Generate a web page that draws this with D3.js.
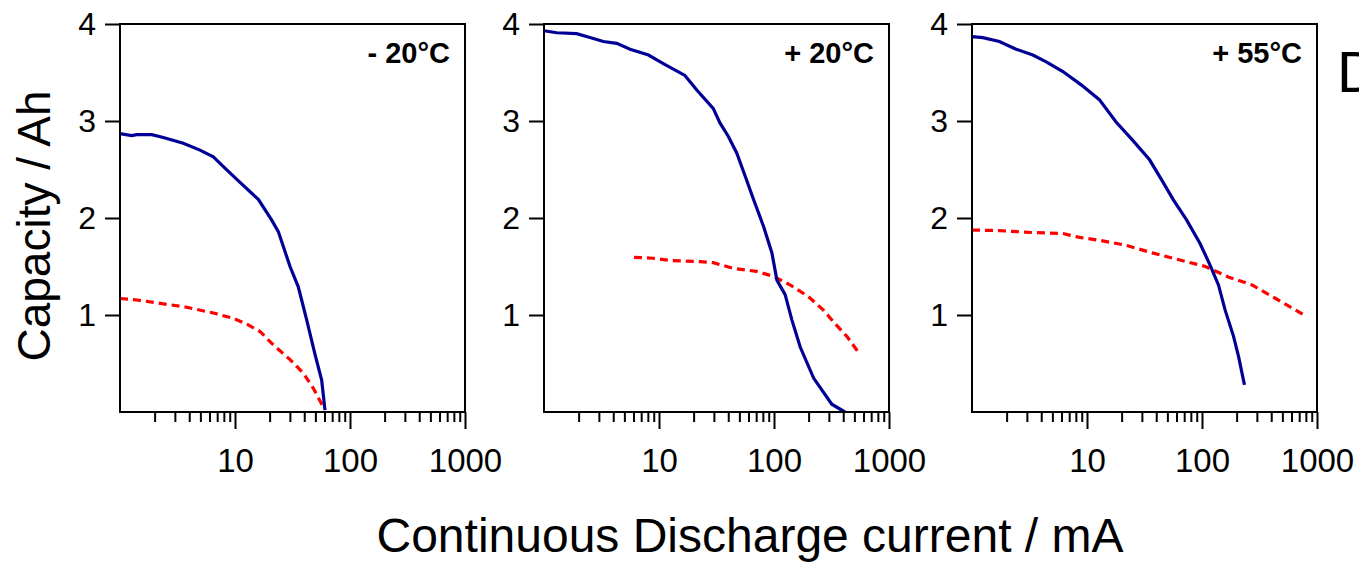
<!DOCTYPE html>
<html>
<head>
<meta charset="utf-8">
<script src="https://cdn.jsdelivr.net/npm/d3@7"></script>
<style>
  body { margin: 0; background: #fff; }
  svg { display: block; font-family: "Liberation Sans", Arial, sans-serif; }
</style>
</head>
<body>
<div class="chart"></div>
<script>
// [current mA, capacity Ah]
const blueMinus20 = [
  [1, 2.87], [1.26, 2.85], [1.4, 2.86], [1.89, 2.86], [2.38, 2.83], [3.55, 2.77],
  [4.96, 2.7], [6.48, 2.63], [8.26, 2.51], [11, 2.37], [16, 2.19], [20.8, 1.98],
  [23.8, 1.86], [30.1, 1.5], [35.5, 1.29], [42, 0.95], [49.5, 0.6], [56.7, 0.33], [60.6, 0.02]
];
const redMinus20 = [
  [1, 1.17], [1.4, 1.155], [2.23, 1.12], [3.8, 1.08], [6.5, 1.02], [9.7, 0.965],
  [12.6, 0.907], [16.5, 0.83], [21.6, 0.69], [30.1, 0.54], [39.3, 0.4], [48, 0.244], [58.6, 0.05]
];
const bluePlus20 = [
  [1, 3.93], [1.29, 3.91], [1.92, 3.9], [2.51, 3.86], [3.28, 3.82], [4.29, 3.8],
  [5.6, 3.74], [8.1, 3.68], [11, 3.59], [16.8, 3.47], [21.3, 3.32], [29.6, 3.13],
  [33.9, 2.98], [40.1, 2.84], [47.4, 2.67], [56.2, 2.43], [66.4, 2.19], [81.3, 1.91],
  [95.9, 1.64], [106, 1.36], [125, 1.21], [143, 0.95], [169, 0.67], [221, 0.35],
  [318, 0.08], [414, 0.0]
];
const redPlus20 = [
  [6.06, 1.595], [8.85, 1.585], [13.1, 1.56], [22.7, 1.55], [29.6, 1.54], [44.3, 1.48],
  [70.5, 1.45], [98, 1.4], [138, 1.31], [199, 1.19], [269, 1.05], [340, 0.91],
  [430, 0.78], [562, 0.59]
];
const bluePlus55 = [
  [1, 3.87], [1.24, 3.86], [1.73, 3.82], [2.42, 3.74], [3.38, 3.68], [4.42, 3.61],
  [6.17, 3.51], [8.96, 3.37], [12.8, 3.22], [17.9, 2.99], [25, 2.8], [35, 2.6],
  [45.8, 2.37], [56.2, 2.19], [73.4, 1.98], [95.9, 1.74], [117, 1.52], [139, 1.31],
  [159, 1.05], [188, 0.78], [208, 0.57], [234, 0.28]
];
const redPlus55 = [
  [1, 1.876], [1.73, 1.87], [3.38, 1.85], [6.17, 1.84], [8.6, 1.8], [12.8, 1.77],
  [21.6, 1.72], [37, 1.64], [63, 1.57], [107, 1.5], [171, 1.39], [272, 1.31],
  [437, 1.17], [797, 0.99]
];

const panelLabels = ["- 20°C", "+ 20°C", "+ 55°C"];
const xTickLabels = [10, 100, 1000];
const yTickLabels = [1, 2, 3, 4];

const panels = [
  { label: panelLabels[0], blue: blueMinus20, red: redMinus20, left: 120 },
  { label: panelLabels[1], blue: bluePlus20, red: redPlus20, left: 544 },
  { label: panelLabels[2], blue: bluePlus55, red: redPlus55, left: 972 },
];

const W = 1359, H = 564;
const pw = 345, plotTop = 24, plotBottom = 412;

const svg = d3.select(".chart").append("svg").attr("width", W).attr("height", H);

const y = d3.scaleLinear().domain([0, 4]).range([plotBottom, plotTop]);

// minor ticks at 2..9 of each decade
const minorTicks = [];
[1, 10, 100].forEach((d) => {
  for (let k = 2; k <= 9; k++) minorTicks.push(d * k);
});

panels.forEach((p) => {
  const x = d3.scaleLog().domain([1, 1000]).range([p.left, p.left + pw]);
  const g = svg.append("g");

  const line = d3.line().x((d) => x(d[0])).y((d) => y(d[1]));

  g.append("path")
    .attr("d", line(p.red))
    .attr("fill", "none")
    .attr("stroke", "#ff0000")
    .attr("stroke-width", 3.2)
    .attr("stroke-dasharray", "8,5");

  g.append("path")
    .attr("d", line(p.blue))
    .attr("fill", "none")
    .attr("stroke", "#000096")
    .attr("stroke-width", 3.2);

  // frame
  g.append("rect")
    .attr("x", p.left)
    .attr("y", plotTop)
    .attr("width", pw)
    .attr("height", plotBottom - plotTop)
    .attr("fill", "none")
    .attr("stroke", "#000")
    .attr("stroke-width", 2);

  // x axis ticks
  const xAxisMinor = d3.axisBottom(x).tickValues(minorTicks).tickSize(10).tickFormat("");
  const xAxisMajor = d3.axisBottom(x).tickValues(xTickLabels).tickSize(17).tickPadding(20)
    .tickFormat(d3.format("d"));

  const gxm = g.append("g").attr("transform", `translate(0,${plotBottom})`).call(xAxisMinor);
  const gx = g.append("g").attr("transform", `translate(0,${plotBottom})`).call(xAxisMajor);
  [gxm, gx].forEach((a) => {
    a.select(".domain").remove();
    a.selectAll("line").attr("stroke", "#000").attr("stroke-width", 2);
  });
  gx.selectAll("text")
    .attr("font-size", 33)
    .attr("fill", "#000")
    .attr("font-family", "Liberation Sans, Arial, sans-serif");

  // y axis
  const yAxis = d3.axisLeft(y).tickValues(yTickLabels).tickSize(15).tickPadding(9)
    .tickFormat(d3.format("d"));
  const gy = g.append("g").attr("transform", `translate(${p.left},0)`).call(yAxis);
  gy.select(".domain").remove();
  gy.selectAll("line").attr("stroke", "#000").attr("stroke-width", 2);
  gy.selectAll("text")
    .attr("font-size", 32)
    .attr("fill", "#000")
    .attr("font-family", "Liberation Sans, Arial, sans-serif");

  g.append("text")
    .attr("x", p.left + pw - 15)
    .attr("y", 63)
    .attr("text-anchor", "end")
    .attr("font-size", 29)
    .attr("font-weight", "bold")
    .text(p.label);
});

svg.append("text")
  .attr("x", 750)
  .attr("y", 552)
  .attr("text-anchor", "middle")
  .attr("font-size", 48)
  .text("Continuous Discharge current / mA");

svg.append("text")
  .attr("transform", "translate(50,226) rotate(-90)")
  .attr("text-anchor", "middle")
  .attr("font-size", 46)
  .text("Capacity / Ah");

// panel letter, cut by the right edge
svg.append("text")
  .attr("x", 1337)
  .attr("y", 92)
  .attr("font-size", 58)
  .text("D");
</script>
</body>
</html>
